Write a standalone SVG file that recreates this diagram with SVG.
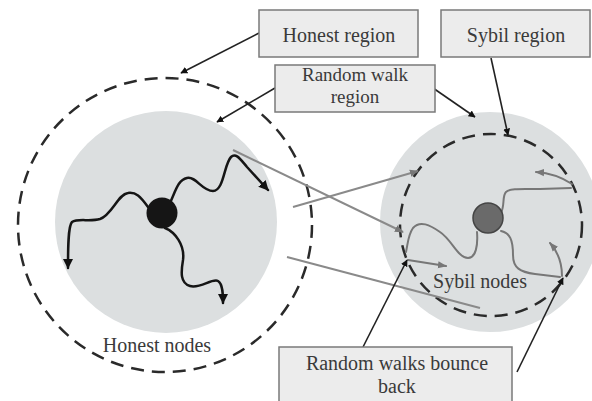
<svg xmlns="http://www.w3.org/2000/svg" width="592" height="401" viewBox="0 0 592 401">
<style>
.disc{fill:#dcdfe0;stroke:none}
.dash{fill:none;stroke:#2a2a2a;stroke-width:2.5;stroke-dasharray:13 8}
.box rect{fill:#ececec;stroke:#7a7a7a;stroke-width:1.5}
.t{font-family:"Liberation Serif",serif;font-size:20px;fill:#3a3a3a;text-anchor:middle}
.t2{font-size:19px}
.blk{fill:none;stroke:#151515;stroke-width:2.5;stroke-linecap:round}
.ptr{fill:none;stroke:#222;stroke-width:1.6;marker-end:url(#ah)}
.gw{fill:none;stroke:#777;stroke-width:2;stroke-linecap:round}
.gl{fill:none;stroke:#8a8a8a;stroke-width:2}
</style>
<defs>
<marker id="ah" viewBox="0 0 10 10" refX="9" refY="5" markerWidth="7" markerHeight="7" orient="auto" markerUnits="userSpaceOnUse"><path d="M0,0 L10,5 L0,10 z" fill="#111"/></marker>
<marker id="hb" viewBox="0 0 10 10" refX="9" refY="5" markerWidth="10" markerHeight="10" orient="auto" markerUnits="userSpaceOnUse"><path d="M0,0 L10,5 L0,10 z" fill="#111"/></marker>
<marker id="ga" viewBox="0 0 10 10" refX="9" refY="5" markerWidth="9" markerHeight="9" orient="auto" markerUnits="userSpaceOnUse"><path d="M0,1 L10,5 L0,9 z" fill="#777"/></marker>
</defs>

<g id="honest-area">
<circle class="disc" cx="166" cy="222" r="111"/>
<circle class="dash" cx="165" cy="225" r="147"/>
</g>
<g id="sybil-area">
<circle class="disc" cx="490" cy="222" r="110"/>
<circle class="dash" cx="491" cy="225" r="91"/>
</g>

<g id="connectors">
<path class="gl" d="M233,150 L403,232" marker-end="url(#ga)"/>
<path class="gl" d="M293,207 L418,171" marker-end="url(#ga)"/>
<path class="gl" d="M287,257 L480,308"/>

<path class="blk" d="M170,203 C176,190 178,180 187,178 C196,176 202,191 213,191 C224,191 224,164 231,157 C236,152 241,160 247,167 L268,190" marker-end="url(#hb)"/>
<path class="blk" d="M148,207 C140,196 136,192 128,193 C118,194 112,215 100,219 C90,222 78,218 72,222 C68,226 68,250 68,268" marker-end="url(#hb)"/>
<path class="blk" d="M165,228 C175,232 185,245 183,260 C181,272 180,283 190,286 C200,289 212,278 218,281 C223,284 223,295 223,303" marker-end="url(#hb)"/>

<path class="gw" d="M477,232 C478,245 476,258 468,258 C458,258 452,240 440,232 C430,225 420,220 413,228 C408,235 408,243 406,252"/>
<path class="gw" d="M408,260 L446,266" marker-end="url(#ga)"/>
<path class="gw" d="M501,213 C505,205 502,196 506,192 C510,188 522,189 540,189 L571,188"/>
<path class="gw" d="M572,184 C560,176 550,173 536,172" marker-end="url(#ga)"/>
<path class="gw" d="M501,231 C510,233 513,240 513,255 C513,268 520,272 535,274 L560,277"/>
<path class="gw" d="M562,276 C562,262 558,252 550,243" marker-end="url(#ga)"/>

<path class="ptr" d="M259,33 L181,73"/>
<path class="ptr" d="M275,88 L217,122"/>
<path class="ptr" d="M433,88 L475,117"/>
<path class="ptr" d="M491,58 L508,135"/>
<path class="ptr" d="M363,347 L407,260"/>
<path class="ptr" d="M517,372 L563,278"/>
</g>

<g id="honest-node"><circle cx="162" cy="213" r="15.5" fill="#151515"/></g>
<g id="sybil-node"><circle cx="488" cy="218" r="15" fill="#6a6a6a" stroke="#444" stroke-width="1.5"/></g>

<g id="honest-region" class="box"><rect x="259" y="10" width="159" height="47"/><text class="t" x="339" y="42">Honest region</text></g>
<g id="sybil-region" class="box"><rect x="441" y="10" width="149" height="47"/><text class="t" x="516" y="42">Sybil region</text></g>
<g id="random-walk-region" class="box"><rect x="275" y="65" width="160" height="47"/><text class="t t2" x="355" y="80.5">Random walk</text><text class="t t2" x="355" y="102.5">region</text></g>
<g id="bounce-back" class="box"><rect x="279" y="347" width="233" height="63"/><text class="t" x="397" y="370">Random walks bounce</text><text class="t" x="397" y="393">back</text></g>

<g id="honest-nodes-label"><text class="t" x="157" y="352">Honest nodes</text></g>
<g id="sybil-nodes-label"><text class="t" x="480" y="288">Sybil nodes</text></g>
</svg>
